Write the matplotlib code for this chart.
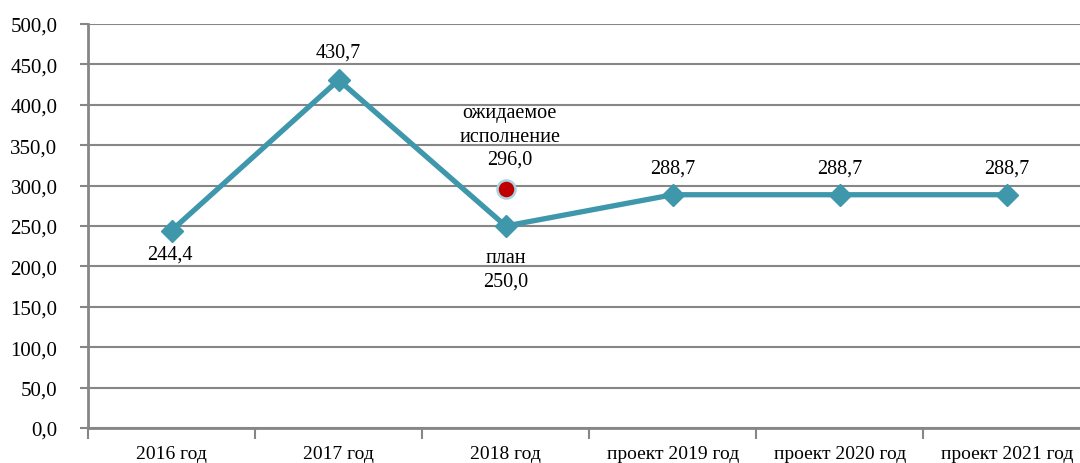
import matplotlib.pyplot as plt
import numpy as np

plt.rcParams['font.family'] = ['Liberation Serif', 'DejaVu Serif']

categories = ['2016 год', '2017 год', '2018 год', 'проект 2019 год', 'проект 2020 год', 'проект 2021 год']
values = [244.4, 430.7, 250.0, 288.7, 288.7, 288.7]
labels = ['244,4', '430,7', 'план\n250,0', '288,7', '288,7', '288,7']
expected_value = 296.0
expected_label = 'ожидаемое\nисполнение\n296,0'
yticks = np.arange(0, 501, 50)

line_color = '#3f97ac'
axis_color = '#868686'

fig = plt.figure(figsize=(10.8, 4.64), dpi=100)
ax = fig.add_axes([88 / 1080, 35 / 464, 1002.5 / 1080, 404 / 464])

x = np.arange(len(categories))
ax.plot(x, values, color=line_color, lw=3.8, marker='D', ms=11.5, zorder=3)
ax.plot([2], [expected_value], 'o', color='#c00000', ms=13,
        markeredgecolor='#a9d4e0', markeredgewidth=1.8, zorder=4)

ax.set_xlim(-0.5, len(categories) - 0.5)
ax.set_ylim(0, 500)
ax.set_yticks(yticks)
ax.set_yticklabels([f'{v:.1f}'.replace('.', ',') for v in yticks], fontsize=15)
ax.yaxis.grid(True, color=axis_color, lw=1.5)
ax.set_axisbelow(True)

ax.set_xticks(x)
ax.set_xticklabels(categories, fontsize=14)
ax.set_xticks(np.arange(-0.5, len(categories)), minor=True)
ax.tick_params(axis='x', which='major', length=0, pad=12)
ax.tick_params(axis='x', which='minor', length=8, width=1.5, color=axis_color)
ax.tick_params(axis='y', length=6, width=1.5, color=axis_color, pad=16)

for s in ['top', 'right']:
    ax.spines[s].set_visible(False)
for s in ['left', 'bottom']:
    ax.spines[s].set_color(axis_color)
    ax.spines[s].set_linewidth(2)

# data labels
offsets = [(-2, -14, 'top'), (0, 18, 'bottom'), (0, -22, 'top'), (0, 17, 'bottom'), (0, 17, 'bottom'), (0, 17, 'bottom')]
for xi, v, lab, (dx, dy, va) in zip(x, values, labels, offsets):
    ax.annotate(lab, (xi, v), xytext=(dx, dy), textcoords='offset pixels',
                ha='center', va=va, fontsize=14.5, linespacing=1.3)
ax.annotate(expected_label, (2, expected_value), xytext=(4, 20), textcoords='offset pixels',
            ha='center', va='bottom', fontsize=14.5, linespacing=1.3)

fig.savefig('out.png', dpi=100)
